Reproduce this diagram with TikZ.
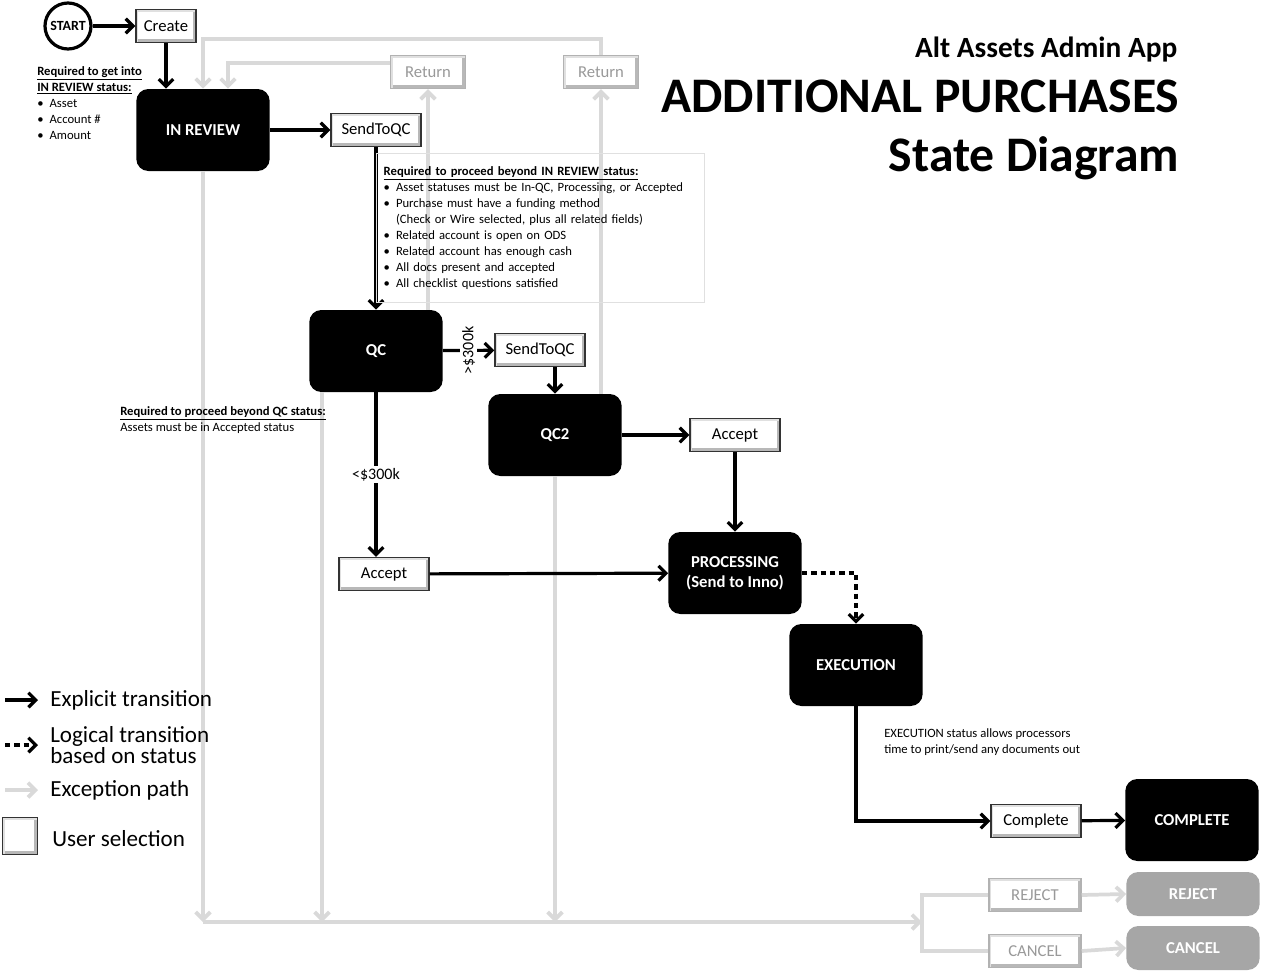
\documentclass[tikz,border=0pt]{standalone}
\usepackage{fontspec}
\setmainfont{Carlito}
\usetikzlibrary{arrows.meta}

\tikzset{
  state/.style={rectangle, rounded corners=9pt, fill=black, text=white, align=center,
    font=\bfseries\fontsize{12.5}{15}\selectfont, minimum width=100pt, minimum height=61.5pt},
  greystate/.style={state, fill=black!35, minimum height=33pt},
  pick/.style={rectangle, draw=black!80, line width=1.1pt, fill=white, inner sep=2pt,
    font=\fontsize{12.5}{15}\selectfont, minimum width=67.5pt, minimum height=24.75pt,
    path picture={\draw[black!28, line width=5pt] (path picture bounding box.north east)
      -- (path picture bounding box.south east) -- (path picture bounding box.south west);
      \draw[black!12, line width=3pt] (path picture bounding box.south west)
      -- (path picture bounding box.north west) -- (path picture bounding box.north east);}},
  greypick/.style={pick, draw=black!30, text=black!40},
  go/.style={-{Straight Barb[length=5.5pt,width=11pt]}, line width=2.4pt, black},
  maybe/.style={go, dash pattern=on 4pt off 3pt},
  exc/.style={-{Straight Barb[length=5.5pt,width=11pt]}, line width=2.8pt, black!15},
  note/.style={font=\fontsize{9.5}{12}\selectfont, align=left, inner sep=0pt},
  key/.style={font=\fontsize{17.3}{15.75}\selectfont, align=left, inner sep=0pt, anchor=west},
}

\begin{document}
\begin{tikzpicture}[x=0.75pt, y=-0.75pt]
  \useasboundingbox (0,0) rectangle (1261,971);

  % title
  \node [anchor=base east, font=\bfseries\fontsize{22}{26}\selectfont] (app) at (1182,57) {Alt Assets Admin App};
  \node [anchor=base east, font=\bfseries\fontsize{37.3}{40}\selectfont] (ttl) at (1184,112) {ADDITIONAL PURCHASES};
  \node [anchor=base east, font=\bfseries\fontsize{37.3}{40}\selectfont] (sub) at (1184,171) {State Diagram};

  % states and user selections
  \node [circle, draw, line width=2.4pt, minimum size=34.5pt, inner sep=0pt,
         font=\bfseries\fontsize{10.5}{12}\selectfont] (start) at (68,26) {START};
  \node [pick, minimum width=45pt] (create) at (166,26) {Create};
  \node [state] (inrev) at (203,130) {IN REVIEW};
  \node [pick] (send1) at (376,130) {SendToQC};
  \node [greypick, minimum width=56pt] (ret1) at (428,72) {Return};
  \node [greypick, minimum width=56pt] (ret2) at (601,72) {Return};
  \node [state] (qc) at (376,351) {QC};
  \node [pick] (send2) at (540,350) {SendToQC};
  \node [state] (qc2) at (555,435) {QC2};
  \node [pick] (acc2) at (735,435) {Accept};
  \node [pick] (acc1) at (384,574) {Accept};
  \node [state] (proc) at (735,573) {PROCESSING\\(Send to Inno)};
  \node [state] (exec) at (856,665) {EXECUTION};
  \node [pick] (comp1) at (1036,821) {Complete};
  \node [state] (done) at (1192,820) {COMPLETE};
  \node [greypick, minimum width=69pt] (rejbtn) at (1035,895) {REJECT};
  \node [greypick, minimum width=69pt] (canbtn) at (1035,951) {CANCEL};
  \node [greystate] (rej) at (1193,894) {REJECT};
  \node [greystate] (can) at (1193,948) {CANCEL};
  \coordinate (bus) at (922,922);

  % exception paths
  \draw [exc] (ret2.north) -- ++(0,-16) -| (inrev.north);
  \draw [exc] ([yshift=6.75pt]ret1.west) -| ([xshift=18.75pt]inrev.north);
  \draw [exc] (qc.north -| ret1.south) -- (ret1.south);
  \draw [exc] (qc2.north -| ret2.south) -- (ret2.south);
  \draw [exc] (inrev.south) -- (inrev.south |- bus);
  \draw [exc] ([xshift=-40.5pt]qc.south) -- ([xshift=-40.5pt]qc.south |- bus);
  \draw [exc] (qc2.south) -- (qc2.south |- bus);
  \draw [exc] (inrev.south |- bus) -- (bus);
  \draw [exc, -] (rejbtn.west) -| (bus) |- (canbtn.west);
  \draw [exc] (rejbtn.east) -- (rej.west);
  \draw [exc] (canbtn.east) -- (can.west);

  % explicit transitions
  \draw [go] (start) -- (create);
  \draw [go] (create.south) -- (create.south |- inrev.north);
  \draw [go] (inrev) -- (send1);
  \draw [go] (send1) -- (qc);
  \draw [go] (qc) -- node [fill=white, rotate=90, inner sep=1.5pt, font=\fontsize{12}{14}\selectfont] {>\$300k} (send2);
  \draw [go] (qc2.north |- send2.south) -- (qc2.north);
  \draw [go] (qc2) -- (acc2);
  \draw [go] (acc2) -- (proc);
  \draw [go] (qc) -- node [fill=white, inner sep=1.5pt, font=\fontsize{12}{14}\selectfont] {<\$300k} (qc.south |- acc1.north);
  \draw [go] (acc1) -- (proc);
  \draw [maybe] (proc.east) -| (exec.north);
  \draw [go] (exec.south) |- (comp1.west);
  \draw [go] (comp1) -- (done);

  % notes
  \node [note, anchor=north west] (getin) at (37,64) {%
    \begin{tabular}{@{}l@{\hspace{4.5pt}}l@{}}
      \multicolumn{2}{@{}l@{}}{\textbf{\underline{Required to get into}}}\\
      \multicolumn{2}{@{}l@{}}{\textbf{\underline{IN REVIEW status:}}}\\
      \textbullet & Asset\\
      \textbullet & Account \#\\
      \textbullet & Amount
    \end{tabular}};
  \node [note, anchor=north west, draw=black!12, line width=0.6pt, inner xsep=5.5pt, inner ysep=8pt,
         text width=235pt] (beyond) at (376,153) {%
    \begin{tabular}{@{}l@{\hspace{4.5pt}}l@{}}
      \multicolumn{2}{@{}l@{}}{\textbf{\underline{Required to proceed beyond IN REVIEW status:}}}\\
      \textbullet & Asset statuses must be In-QC, Processing, or Accepted\\
      \textbullet & Purchase must have a funding method\\
                  & (Check or Wire selected, plus all related fields)\\
      \textbullet & Related account is open on ODS\\
      \textbullet & Related account has enough cash\\
      \textbullet & All docs present and accepted\\
      \textbullet & All checklist questions satisfied
    \end{tabular}};
  \node [note, anchor=north west] (qcnote) at (120,406) {%
    \textbf{\underline{Required to proceed beyond QC status:}}\\
    Assets must be in Accepted status};
  \node [note, anchor=north west] (execnote) at (884,728) {%
    EXECUTION status allows processors\\
    time to print/send any documents out};

  % legend
  \coordinate (key1) at (5,700);
  \coordinate (key2) at (5,745);
  \coordinate (key3) at (5,790);
  \draw [go] (key1) -- ++(33,0);
  \draw [maybe] (key2) -- ++(33,0);
  \draw [exc] (key3) -- ++(33,0);
  \node [pick, minimum width=26pt, minimum height=27.75pt] (key4) at (20,836) {};
  \node [key] (keytxt1) at (50,700) {Explicit transition};
  \node [key] (keytxt2) at (50,745) {Logical transition\\based on status};
  \node [key] (keytxt3) at (50,790) {Exception path};
  \node [key] (keytxt4) at (52,839) {User selection};
\end{tikzpicture}
\end{document}
